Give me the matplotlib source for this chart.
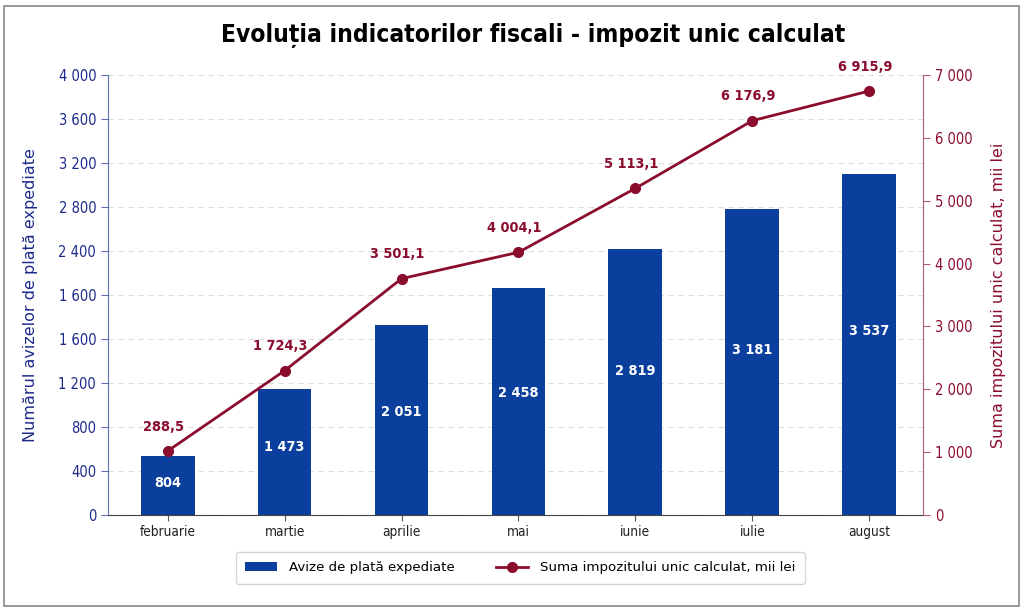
import numpy as np
import matplotlib
matplotlib.use("Agg")
import matplotlib.pyplot as plt
from matplotlib.patches import Rectangle

# data
months = ["februarie", "martie", "aprilie", "mai", "iunie", "iulie", "august"]
bar_heights = [536, 1148, 1730, 2061, 2418, 2782, 3097]
bar_labels = ["804", "1 473", "2 051", "2 458", "2 819", "3 181", "3 537"]
line_values = [1018, 2296, 3760, 4179, 5197, 6273, 6745]
line_labels = ["288,5", "1 724,3", "3 501,1", "4 004,1", "5 113,1", "6 176,9", "6 915,9"]
left_ticks = [0, 400, 800, 1200, 1600, 2000, 2400, 2800, 3200, 3600, 4000]
left_tick_labels = ["0", "400", "800", "1 200", "1 600", "1 600", "2 400",
                    "2 800", "3 200", "3 600", "4 000"]
right_ticks = [0, 1000, 2000, 3000, 4000, 5000, 6000, 7000]
right_tick_labels = ["0", "1 000", "2 000", "3 000", "4 000", "5 000", "6 000", "7 000"]

BLUE = "#0a3f9e"
NAVY = "#1c2a8a"
RED = "#8b0d2e"

plt.rcParams["font.family"] = ["DejaVu Sans"]

fig = plt.figure(figsize=(10.24, 6.11), dpi=100)
fig.patches.append(Rectangle((0.004, 0.008), 0.991, 0.982, transform=fig.transFigure,
                             fill=False, edgecolor="#888888", linewidth=1.2))
ax = fig.add_axes([0.1055, 0.1571, 0.7959, 0.7202])
ax2 = ax.twinx()

x = np.arange(len(months))
bars = ax.bar(x, bar_heights, width=0.46, color=BLUE, zorder=2,
              label="Avize de plată expediate")
for xi, h, lab in zip(x, bar_heights, bar_labels):
    ax.text(xi, h * 0.54, lab, ha="center", va="center", color="white",
            fontsize=10.4, fontweight="bold", fontstretch="condensed", zorder=3)

ax.set_ylim(0, 4000)
ax.set_xlim(-0.51, 6.46)
ax.set_yticks(left_ticks, left_tick_labels)
ax.set_xticks(x, months)
ax.grid(axis="y", linestyle=(0, (5, 4)), color="#dddddd", linewidth=0.8, zorder=0)
ax.set_axisbelow(True)
ax.tick_params(axis="y", colors=NAVY, labelsize=10.5, length=5, width=0.8)
ax.tick_params(axis="y", color="#5b6fb5")
ax.tick_params(axis="x", labelsize=9.8, labelcolor="#222222", length=4, color="#555555")
for t in ax.get_xticklabels() + ax.get_yticklabels():
    t.set_fontstretch("condensed")
ax.set_ylabel("Numărul avizelor de plată expediate", color=NAVY, fontsize=11.5, labelpad=15)
for s in ["top", "right"]:
    ax.spines[s].set_visible(False)
ax.spines["left"].set_color("#5b6fb5")
ax.spines["bottom"].set_color("#444444")

line, = ax2.plot(x, line_values, color=RED, linewidth=2, marker="o", markersize=7,
                 zorder=4, label="Suma impozitului unic calculat, mii lei")
for xi, v, lab in zip(x, line_values, line_labels):
    ax2.annotate(lab, (xi, v), xytext=(-3, 17.5), textcoords="offset points",
                 ha="center", va="center", color=RED, fontsize=10.4, fontweight="bold",
                 fontstretch="condensed")
ax2.set_ylim(0, 7000)
ax2.set_yticks(right_ticks, right_tick_labels)
ax2.tick_params(axis="y", labelcolor=RED, color="#b05a70", labelsize=10.5, length=5, width=0.8)
for t in ax2.get_yticklabels():
    t.set_fontstretch("condensed")
ax2.set_ylabel("Suma impozitului unic calculat, mii lei", color=RED, fontsize=11.5, labelpad=13)
for s in ["top", "left", "bottom"]:
    ax2.spines[s].set_visible(False)
ax2.spines["right"].set_color("#b05a70")

fig.suptitle("Evoluția indicatorilor fiscali - impozit unic calculat", x=0.521, y=0.963,
             fontsize=17.6, fontweight="bold", fontstretch="condensed")

leg = fig.legend(handles=[bars, line], loc="center", bbox_to_anchor=(0.508, 0.0704),
                 ncol=2, fontsize=9.6, frameon=True, edgecolor="#cccccc",
                 handlelength=2.4, handletextpad=0.9, columnspacing=3.1, borderpad=0.7)

fig.savefig("out.png", dpi=100)
